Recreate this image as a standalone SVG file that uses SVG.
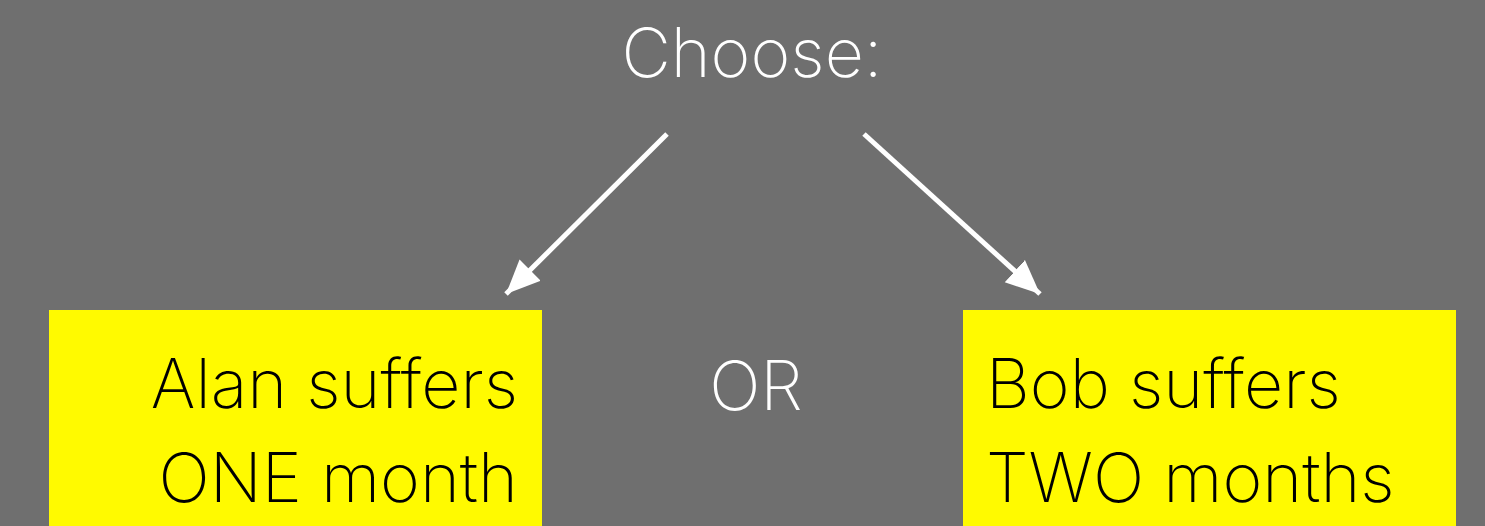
<svg xmlns="http://www.w3.org/2000/svg" width="1485" height="526" viewBox="0 0 1485 526">
  <style>
    .lbl { font-family: Inter, "Liberation Sans", sans-serif; font-weight: 250; font-size: 68px; }
    .light { fill: #ffffff; }
    .dark { fill: #000000; }
    .box { fill: #fffa00; }
    .conn { stroke: #ffffff; stroke-width: 5; fill: none; }
  </style>
  <defs>
    <marker id="head" markerUnits="userSpaceOnUse" markerWidth="36" markerHeight="36" viewBox="0 0 36 36" refX="34" refY="18" orient="auto">
      <path d="M0,3 L34,18 L0,33 Z" fill="#ffffff"/>
    </marker>
  </defs>
  <rect width="1485" height="526" fill="#6f6f6f"/>

  <g id="choose">
    <text class="lbl light" x="752" y="77" text-anchor="middle">Choose:</text>
  </g>

  <g id="alan">
    <rect class="box" x="49" y="310" width="493" height="216"/>
    <text class="lbl dark" x="518" y="408" text-anchor="end">Alan suffers</text>
    <text class="lbl dark" x="518" y="502" text-anchor="end">ONE month</text>
  </g>

  <g id="or">
    <text class="lbl light" x="756" y="410" text-anchor="middle">OR</text>
  </g>

  <g id="bob">
    <rect class="box" x="963" y="310" width="493" height="216"/>
    <text class="lbl dark" x="986" y="408">Bob suffers</text>
    <text class="lbl dark" x="986" y="502">TWO months</text>
  </g>

  <g id="connectors">
    <line class="conn" x1="667" y1="134" x2="506" y2="294" marker-end="url(#head)"/>
    <line class="conn" x1="864" y1="134" x2="1040" y2="294" marker-end="url(#head)"/>
  </g>
</svg>
